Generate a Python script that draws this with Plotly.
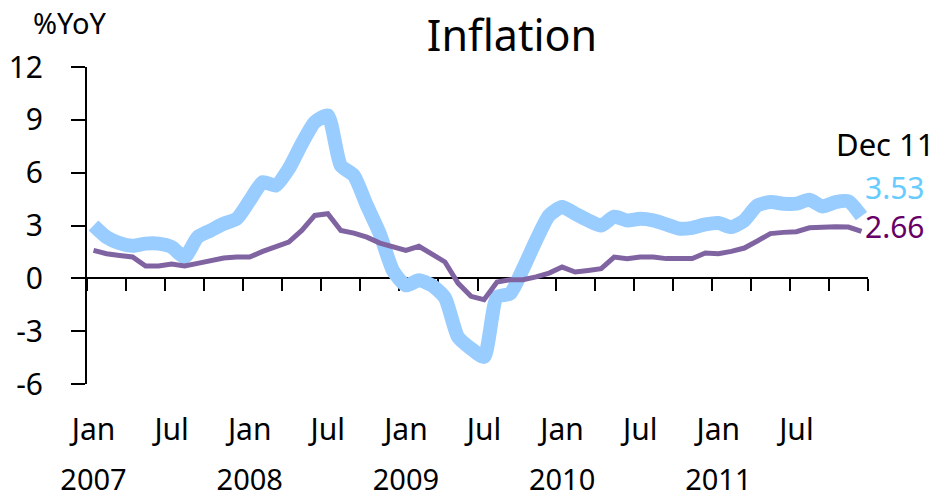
import plotly.graph_objects as go

years = ["2007", "2008", "2009", "2010", "2011"]
month_names = ["Jan", "Feb", "Mar", "Apr", "May", "Jun",
               "Jul", "Aug", "Sep", "Oct", "Nov", "Dec"]
categories = [f"{m} {y}" for y in years for m in month_names]

headline_cpi = [
    3.00, 2.34, 2.00, 1.85, 1.97, 1.97, 1.78, 1.21, 2.34, 2.72, 3.10, 3.38,
    4.42, 5.46, 5.27, 6.22, 7.64, 8.87, 9.25, 6.40, 5.84, 4.14, 2.53, 0.45,
    -0.40, -0.11, -0.40, -1.10, -3.33, -3.99, -4.46, -1.06, -0.87, 0.55, 2.16, 3.57,
    4.05, 3.67, 3.29, 3.00, 3.50, 3.29, 3.38, 3.29, 3.06, 2.82, 2.87, 3.06,
    3.14, 2.91, 3.29, 4.14, 4.33, 4.24, 4.24, 4.46, 4.08, 4.33, 4.37, 3.53,
]
core_cpi = [
    1.59, 1.40, 1.30, 1.21, 0.70, 0.70, 0.81, 0.70, 0.85, 1.02, 1.15, 1.21,
    1.21, 1.53, 1.78, 2.06, 2.72, 3.57, 3.67, 2.72, 2.57, 2.34, 2.00, 1.78,
    1.59, 1.82, 1.40, 0.93, -0.27, -1.02, -1.21, -0.21, -0.08, -0.08, 0.08, 0.30,
    0.64, 0.36, 0.45, 0.55, 1.21, 1.12, 1.21, 1.21, 1.12, 1.12, 1.12, 1.44,
    1.40, 1.53, 1.72, 2.12, 2.54, 2.61, 2.65, 2.87, 2.93, 2.93, 2.91, 2.66,
]
y_ticks = [-6, -3, 0, 3, 6, 9, 12]
y_tick_labels = ["-6", "-3", "0", "3", "6", "9", "12"]
month_tick_names = ["Jan", "Jul"]
last_label = "Dec 11"

FONT = "Noto Sans"
x_idx = list(range(len(categories)))
n = len(categories)

month_tick_pos = [i for i, c in enumerate(categories) if c.split()[0] in month_tick_names]
month_tick_txt = [categories[i].split()[0] for i in month_tick_pos]
year_tick_pos = [i for i, c in enumerate(categories) if c.split()[0] == "Jan"]
year_tick_txt = [categories[i].split()[1] for i in year_tick_pos]
boundaries = [i - 0.5 for i in range(0, n + 1, 3)]

fig = go.Figure()
fig.add_trace(go.Scatter(
    x=x_idx, y=headline_cpi, mode="lines", name="Headline",
    line=dict(color="#99CCFF", width=14, shape="spline", smoothing=0.6),
    hoverinfo="skip",
))
fig.add_trace(go.Scatter(
    x=x_idx, y=core_cpi, mode="lines", name="Core",
    line=dict(color="#8064A2", width=5),
    hoverinfo="skip",
))
# empty helper traces so the label-only axes get drawn
fig.add_trace(go.Scatter(x=month_tick_pos, y=[None] * len(month_tick_pos),
                         xaxis="x2", mode="lines", hoverinfo="skip", showlegend=False))
fig.add_trace(go.Scatter(x=year_tick_pos, y=[None] * len(year_tick_pos),
                         xaxis="x3", mode="lines", hoverinfo="skip", showlegend=False))

xr = [-0.5, n - 0.5]
zero_pos = (0 - y_ticks[0]) / (y_ticks[-1] - y_ticks[0])

fig.update_layout(
    width=941, height=498, autosize=False,
    margin=dict(l=87, r=73, t=67, b=114, pad=0, autoexpand=False),
    paper_bgcolor="white", plot_bgcolor="white",
    showlegend=False,
    font=dict(family=FONT, color="black"),
    title=dict(text="Inflation", x=512 / 941, xanchor="center",
               y=1 - 36 / 498, yanchor="middle", yref="container",
               font=dict(size=43, family=FONT, color="black")),
    xaxis=dict(range=xr, anchor="free", position=zero_pos, automargin=False,
               tickvals=boundaries, ticks="outside", ticklen=12, tickwidth=1.5,
               tickcolor="black", showticklabels=False, showline=True,
               linecolor="black", linewidth=2, showgrid=False, zeroline=False,
               layer="below traces"),
    xaxis2=dict(range=xr, overlaying="x", anchor="y", side="bottom", automargin=False,
                tickvals=month_tick_pos, ticktext=month_tick_txt, ticks="",
                showline=False, showgrid=False, zeroline=False,
                tickfont=dict(size=30, family=FONT, color="black"),
                ticklabelstandoff=25),
    xaxis3=dict(range=xr, overlaying="x", anchor="y", side="bottom", automargin=False,
                tickvals=year_tick_pos, ticktext=year_tick_txt, ticks="",
                showline=False, showgrid=False, zeroline=False,
                tickfont=dict(size=29, family=FONT, color="black"),
                ticklabelstandoff=76),
    yaxis=dict(range=[y_ticks[0], y_ticks[-1]], tickvals=y_ticks,
               ticktext=y_tick_labels, automargin=False,
               ticks="outside", ticklen=14, tickwidth=1.5, tickcolor="black",
               showline=True, linecolor="black", linewidth=2,
               showgrid=False, zeroline=False,
               tickfont=dict(size=30, family=FONT, color="black"),
               ticklabelstandoff=22),
)

fig.add_annotation(text="%YoY", xref="paper", yref="paper",
                   x=-17 / 781, y=1 + 45 / 317, xanchor="center", yanchor="middle",
                   showarrow=False, font=dict(size=29, family=FONT, color="black"))
fig.add_annotation(text=last_label, xref="paper", yref="paper",
                   x=1 + 69 / 781, y=1 - 77 / 317, xanchor="right", yanchor="middle",
                   showarrow=False, font=dict(size=31, family=FONT, color="black"))
fig.add_annotation(text=f"{headline_cpi[-1]:.2f}", xref="x", yref="y",
                   x=x_idx[-1], y=headline_cpi[-1], xanchor="left", yanchor="middle",
                   xshift=2, yshift=29, showarrow=False,
                   font=dict(size=30, family=FONT, color="#66CCFF"))
fig.add_annotation(text=f"{core_cpi[-1]:.2f}", xref="x", yref="y",
                   x=x_idx[-1], y=core_cpi[-1], xanchor="left", yanchor="middle",
                   xshift=2, yshift=5, showarrow=False,
                   font=dict(size=30, family=FONT, color="#660066"))

fig.write_html("out.html", config={"displayModeBar": False},
               post_script="document.body.style.margin='0';document.body.style.padding='0';")
